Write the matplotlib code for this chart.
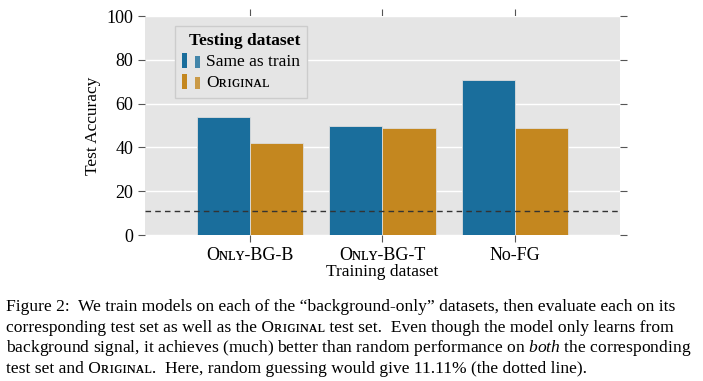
import matplotlib
matplotlib.use("Agg")
import matplotlib.pyplot as plt
import matplotlib.patches as mpatches
from matplotlib.container import BarContainer
from matplotlib.legend_handler import HandlerBase
import numpy as np

plt.rcParams['font.family'] = ['Liberation Serif', 'DejaVu Serif']
plt.rcParams['mathtext.fontset'] = 'custom'
plt.rcParams['mathtext.rm'] = 'Liberation Serif'
plt.rcParams['mathtext.it'] = 'Liberation Serif:italic'

# data
train_sets = ["Oɴʟʏ-BG-B", "Oɴʟʏ-BG-T", "Nᴏ-FG"]
same_as_train = [54.0, 50.0, 70.8]
original = [42.0, 49.0, 48.8]
random_guess = 11.11
series_names = ["Same as train", "Oʀɪɢɪɴᴀʟ"]

blue = "#1a6e9c"
orange = "#c4871f"


class TwoBarHandler(HandlerBase):
    # legend handle drawn as two thin bars
    def create_artists(self, legend, orig_handle, xdescent, ydescent,
                       width, height, fontsize, trans):
        c = orig_handle.patches[0].get_facecolor()
        w = width * 0.26
        r1 = mpatches.Rectangle((-xdescent, -ydescent - height * 0.15), w, height * 1.25,
                                facecolor=c, transform=trans, lw=0)
        r2 = mpatches.Rectangle((-xdescent + width * 0.7, -ydescent - height * 0.15), w, height * 1.0,
                                facecolor=c, transform=trans, lw=0, alpha=0.8)
        return [r1, r2]


fig = plt.figure(figsize=(7.03, 3.81), dpi=100)
ax = fig.add_axes([0.206, 0.383, 0.676, 0.575])
ax.set_facecolor("#e5e5e5")

x = np.arange(len(train_sets))
bw = 0.4
b1 = ax.bar(x - bw / 2, same_as_train, bw, color=blue, edgecolor="#dddddd", linewidth=0.6,
            label=series_names[0], zorder=3)
b2 = ax.bar(x + bw / 2, original, bw, color=orange, edgecolor="#dddddd", linewidth=0.6,
            label=series_names[1], zorder=3)
ax.axhline(random_guess, color="#333333", linestyle=(0, (4, 3)), linewidth=1.0, zorder=4)

ax.set_xlim(-0.79, 2.79)
ax.set_ylim(0, 100)
ax.set_yticks([0, 20, 40, 60, 80, 100])
ax.set_xticks(x)
ax.set_xticklabels(train_sets, fontsize=13)
ax.grid(axis='y', color='white', linewidth=1.0, zorder=0)
ax.set_axisbelow(True)
for s in ax.spines.values():
    s.set_visible(False)
ax.tick_params(axis='both', direction='out', color='#555555', length=5, width=0.8, labelsize=13)
ax.tick_params(axis='y', right=True)
ax.tick_params(axis='x', top=True)
ax.set_ylabel("Test Accuracy", fontsize=12.5)
ax.set_xlabel("Training dataset", fontsize=12.5, labelpad=0)

leg = ax.legend(handles=[b1, b2], title="Testing dataset", loc="upper left",
                bbox_to_anchor=(0.045, 0.995), fontsize=12.5, title_fontsize=12.5,
                handler_map={BarContainer: TwoBarHandler()},
                handlelength=1.1, handletextpad=0.3, borderpad=0.4,
                labelspacing=0.3, fancybox=False, framealpha=1)
leg.get_title().set_fontweight('bold')
leg._legend_box.align = "right"
leg.get_frame().set_facecolor("#e5e5e5")
leg.get_frame().set_edgecolor("#cccccc")

caption = [
    "Figure 2:  We train models on each of the \u201cbackground-only\u201d datasets, then evaluate each on its",
    "corresponding test set as well as the Oʀɪɢɪɴᴀʟ test set.  Even though the model only learns from",
    "background signal, it achieves (much) better than random performance on $\\mathit{both}$ the corresponding",
    "test set and Oʀɪɢɪɴᴀʟ.  Here, random guessing would give 11.11% (the dotted line).",
]
for i, line in enumerate(caption):
    fig.text(0.008, 1 - (307 + 20.7 * i) / 381, line, fontsize=12.6, va='center', ha='left')

fig.savefig("out.png", dpi=100)
